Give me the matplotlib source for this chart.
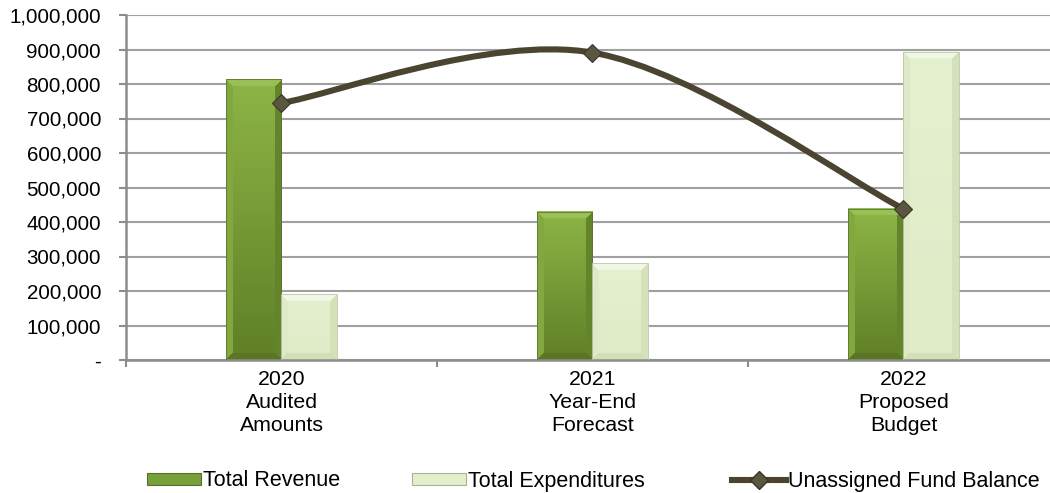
#!/usr/bin/env python3
"""
Revenue / expenditures / fund balance, 2020-2022
"""

import numpy as np
import matplotlib
matplotlib.use('Agg')
import matplotlib.pyplot as plt
from matplotlib.path import Path
from matplotlib.patches import PathPatch, Patch
from matplotlib.lines import Line2D
from matplotlib.ticker import FuncFormatter

plt.rcParams['font.family'] = ['Liberation Sans', 'DejaVu Sans']

# Data
categories = ['2020\nAudited\nAmounts', '2021\nYear-End\nForecast', '2022\nProposed\nBudget']
revenue = [814000, 429000, 438000]
expenditures = [191000, 280000, 893000]
fund_balance = [745000, 891000, 438000]

FS_Y = 14.8
FS_X = 15.3
FS_LEG = 15.5
LINE_C = '#4a4430'
GRID_C = '#a0a0a0'

fig = plt.figure(figsize=(10.5, 4.93), dpi=100)
W, H = 1050, 493
ax = fig.add_axes([126 / W, (H - 360) / H, (1059 - 126) / W, (360 - 15) / H])

x = np.arange(len(categories))
bw = 0.18
ax.set_xlim(-0.5, len(categories) - 0.5)
ax.set_ylim(0, 1000000)

bars_rev = ax.bar(x - bw / 2, revenue, bw, color='none', edgecolor='#5a7530', lw=0.6, zorder=3)
bars_exp = ax.bar(x + bw / 2, expenditures, bw, color='none', edgecolor='#bcc6aa', lw=0.6, zorder=3)


def bevel(w, h, body_top, body_bot, top_c, left_c, right_c, bot_c, b=7):
    # bevelled bar fill: gradient body with mitred edge strips
    body_top, body_bot = np.array(body_top) / 255, np.array(body_bot) / 255
    t = np.linspace(0, 1, h)[:, None, None]
    img = body_top * (1 - t) + body_bot * t
    img = np.broadcast_to(img, (h, w, 3)).copy()
    r = np.arange(h)[:, None] * np.ones((1, w))
    c = np.ones((h, 1)) * np.arange(w)[None, :]
    d = np.stack([r, h - 1 - r, c, w - 1 - c])
    side = d.argmin(axis=0)
    near = d.min(axis=0) < b
    for k, col in enumerate([top_c, bot_c, left_c, right_c]):
        m = near & (side == k)
        img[m] = np.array(col) / 255
    return img


styles = {
    'rev': dict(body_top=(141, 181, 70), body_bot=(96, 127, 39), top_c=(154, 192, 88),
                left_c=(130, 168, 62), right_c=(100, 132, 44), bot_c=(90, 118, 36)),
    'exp': dict(body_top=(229, 240, 207), body_bot=(224, 236, 199), top_c=(241, 247, 229),
                left_c=(222, 234, 199), right_c=(212, 225, 186), bot_c=(210, 223, 183)),
}

for key, bars in [('rev', bars_rev), ('exp', bars_exp)]:
    for p in bars:
        x0, y0 = p.get_x(), p.get_y()
        x1, y1 = x0 + p.get_width(), y0 + p.get_height()
        (px0, py0), (px1, py1) = ax.transData.transform([(x0, y0), (x1, y1)])
        pw, ph = max(int(round(px1 - px0)), 2), max(int(round(py1 - py0)), 2)
        img = bevel(pw, ph, **styles[key])
        ax.imshow(img, extent=(x0, x1, y0, y1), aspect='auto', origin='upper',
                  interpolation='bilinear', zorder=2.5)

ax.set_xlim(-0.5, len(categories) - 0.5)
ax.set_ylim(0, 1000000)

# smoothed balance line (Catmull-Rom as cubic Bezier)
pts = np.column_stack([x, fund_balance]).astype(float)
ext = np.vstack([pts[0], pts, pts[-1]])
verts = [tuple(pts[0])]
codes = [Path.MOVETO]
for i in range(len(pts) - 1):
    p0, p1, p2, p3 = ext[i], ext[i + 1], ext[i + 2], ext[i + 3]
    c1 = p1 + (p2 - p0) / 6
    c2 = p2 - (p3 - p1) / 6
    verts += [tuple(c1), tuple(c2), tuple(p2)]
    codes += [Path.CURVE4] * 3
ax.add_patch(PathPatch(Path(verts, codes), fill=False, edgecolor=LINE_C, lw=4.4,
                       capstyle='round', zorder=4))
ax.plot(x, fund_balance, ls='none', marker='D', ms=9, mfc='#5b5640', mec='#3a3624',
        mew=0.8, zorder=5)

# axes styling
ax.set_yticks(np.arange(0, 1000001, 100000))
ax.yaxis.set_major_formatter(FuncFormatter(lambda v, _: '-' if v == 0 else f'{int(v):,}'))
ax.grid(axis='y', color=GRID_C, lw=1.5, zorder=0)
ax.set_axisbelow(True)
for s in ['top', 'right']:
    ax.spines[s].set_visible(False)
for s in ['left', 'bottom']:
    ax.spines[s].set_color('#8c8c8c')
    ax.spines[s].set_linewidth(1.8)
ax.tick_params(axis='y', length=5, width=1.5, color='#8c8c8c', pad=13, labelsize=FS_Y)

ax.set_xticks(np.arange(-0.5, len(categories), 1.0))
ax.set_xticklabels([])
ax.set_xticks(x, minor=True)
ax.set_xticklabels(categories, minor=True, fontsize=FS_X, linespacing=1.28)
ax.tick_params(axis='x', which='major', length=5, width=1.5, color='#8c8c8c')
ax.tick_params(axis='x', which='minor', length=0, pad=7)

# legend
h_rev = Patch(facecolor='#78a03a', edgecolor='#55702a', lw=0.8)
h_exp = Patch(facecolor='#e3efca', edgecolor='#a9b496', lw=0.8)
h_bal = Line2D([], [], color=LINE_C, lw=4.4, marker='D', ms=9, mfc='#5b5640', mec='#3a3624')
for h, lab, xa in [(h_rev, 'Total Revenue', 147), (h_exp, 'Total Expenditures', 412),
                   (h_bal, 'Unassigned Fund Balance', 732)]:
    fig.legend([h], [lab], loc='center left', bbox_to_anchor=(xa / W, (H - 481) / H),
               frameon=False, fontsize=FS_LEG, borderpad=0, borderaxespad=0,
               handlelength=2.5, handleheight=0.45, handletextpad=0.1)

fig.savefig('out.png', dpi=100)
